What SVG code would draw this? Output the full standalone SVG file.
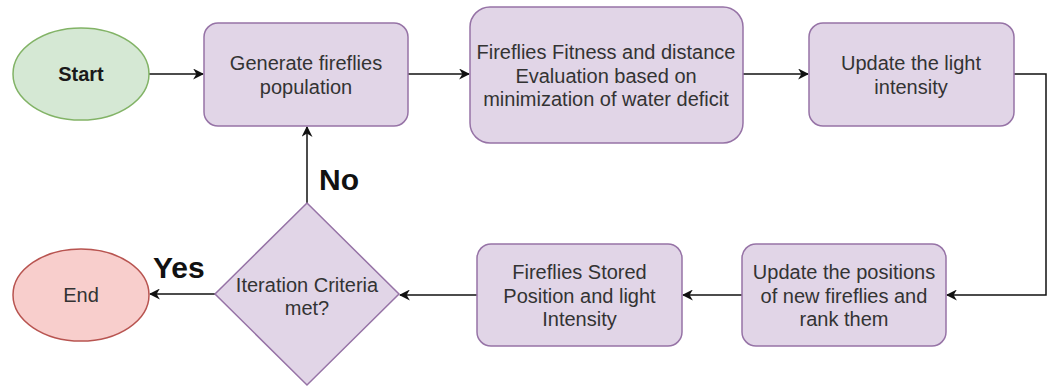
<svg xmlns="http://www.w3.org/2000/svg" width="1050" height="389" viewBox="0 0 1050 389">
  <style>
    .proc { fill: #e1d5e7; stroke: #9673a6; stroke-width: 1.5; }
    .start { fill: #d5e8d4; stroke: #82b366; stroke-width: 1.5; }
    .end { fill: #f8cecc; stroke: #b85450; stroke-width: 1.5; }
    .lbl { font-family: "Liberation Sans", Arial, sans-serif; font-size: 20px; fill: #333333; text-anchor: middle; }
    .bold { font-weight: bold; fill: #1a1a1a; }
    .big { font-family: "Liberation Sans", Arial, sans-serif; font-size: 30px; font-weight: bold; fill: #111; }
    .edge { fill: none; stroke: #111; stroke-width: 1.5; }
  </style>
  <defs>
    <marker id="arrow" viewBox="0 0 10 10" refX="9" refY="5" markerWidth="11" markerHeight="11" markerUnits="userSpaceOnUse" orient="auto">
      <path d="M0,0 L10,5 L0,10 L3,5 Z" fill="#111"/>
    </marker>
  </defs>
  <rect width="1050" height="389" fill="#ffffff"/>

  <g id="connectors">
    <line class="edge" x1="149" y1="74" x2="203" y2="74" marker-end="url(#arrow)"/>
    <line class="edge" x1="408" y1="74" x2="469" y2="74" marker-end="url(#arrow)"/>
    <line class="edge" x1="743" y1="74" x2="808" y2="74" marker-end="url(#arrow)"/>
    <polyline class="edge" points="1014,74 1046,74 1046,295 947,295" marker-end="url(#arrow)"/>
    <line class="edge" x1="742" y1="295" x2="683" y2="295" marker-end="url(#arrow)"/>
    <line class="edge" x1="477" y1="295" x2="400" y2="295" marker-end="url(#arrow)"/>
    <line class="edge" x1="215" y1="294" x2="150" y2="294" marker-end="url(#arrow)"/>
    <line class="edge" x1="307" y1="203" x2="307" y2="127" marker-end="url(#arrow)"/>
    <text class="big" x="153" y="278">Yes</text>
    <text class="big" x="319" y="190">No</text>
  </g>

  <g id="start">
    <ellipse class="start" cx="81" cy="74" rx="68" ry="46"/>
    <text class="lbl bold" x="81" y="81">Start</text>
  </g>

  <g id="generate">
    <rect class="proc" x="204" y="23" width="204" height="103" rx="14"/>
    <text class="lbl" x="306" y="70">Generate fireflies</text>
    <text class="lbl" x="306" y="94">population</text>
  </g>

  <g id="fitness">
    <rect class="proc" x="470" y="7" width="273" height="136" rx="20"/>
    <text class="lbl" x="606" y="59">Fireflies Fitness and distance</text>
    <text class="lbl" x="606" y="83">Evaluation based on</text>
    <text class="lbl" x="606" y="106">minimization of water deficit</text>
  </g>

  <g id="light">
    <rect class="proc" x="809" y="23" width="205" height="103" rx="14"/>
    <text class="lbl" x="911" y="70">Update the light</text>
    <text class="lbl" x="911" y="94">intensity</text>
  </g>

  <g id="positions">
    <rect class="proc" x="742" y="244" width="204" height="102" rx="14"/>
    <text class="lbl" x="844" y="279">Update the positions</text>
    <text class="lbl" x="844" y="303">of new fireflies and</text>
    <text class="lbl" x="844" y="326">rank them</text>
  </g>

  <g id="stored">
    <rect class="proc" x="477" y="244" width="205" height="102" rx="14"/>
    <text class="lbl" x="579.5" y="279">Fireflies Stored</text>
    <text class="lbl" x="579.5" y="303">Position and light</text>
    <text class="lbl" x="579.5" y="326">Intensity</text>
  </g>

  <g id="criteria">
    <polygon class="proc" points="307,203 399,294 307,385 215,294"/>
    <text class="lbl" x="307" y="292">Iteration Criteria</text>
    <text class="lbl" x="307" y="315">met?</text>
  </g>

  <g id="end">
    <ellipse class="end" cx="81" cy="295" rx="68" ry="46"/>
    <text class="lbl" x="81" y="302">End</text>
  </g>
</svg>
